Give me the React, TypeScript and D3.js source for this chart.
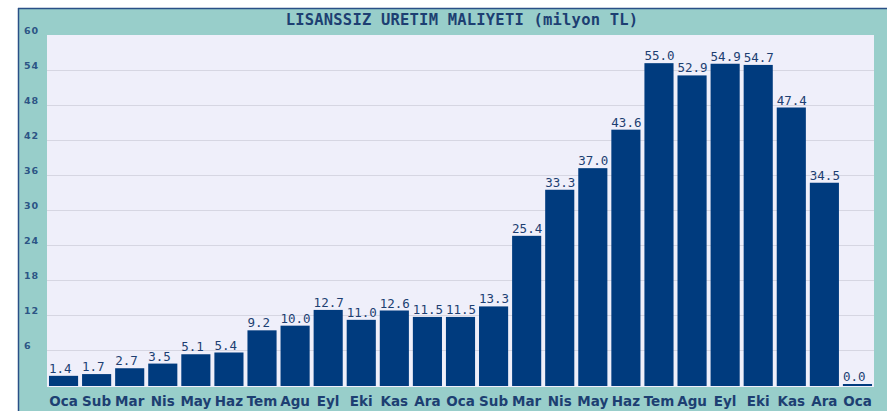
import React, { useEffect, useRef } from 'react';
import * as d3 from 'd3';

const months = ['Oca', 'Sub', 'Mar', 'Nis', 'May', 'Haz', 'Tem', 'Agu', 'Eyl', 'Eki', 'Kas', 'Ara',
  'Oca', 'Sub', 'Mar', 'Nis', 'May', 'Haz', 'Tem', 'Agu', 'Eyl', 'Eki', 'Kas', 'Ara', 'Oca'];
const values = [1.4, 1.7, 2.7, 3.5, 5.1, 5.4, 9.2, 10.0, 12.7, 11.0, 12.6, 11.5,
  11.5, 13.3, 25.4, 33.3, 37.0, 43.6, 55.0, 52.9, 54.9, 54.7, 47.4, 34.5, 0.0];
const yTicks = [6, 12, 18, 24, 30, 36, 42, 48, 54, 60];
const title = 'LISANSSIZ URETIM MALIYETI (milyon TL)';

const App = () => {
  const svgRef = useRef<SVGSVGElement>(null);
  const width = 887;
  const height = 411;

  useEffect(() => {
    const svg = d3.select(svgRef.current);
    svg.selectAll('*').remove();

    const plot = { left: 47, right: 874, top: 35, bottom: 385 };
    const teal = '#98ceca';
    const navy = '#003b7e';
    const textColor = '#1d3f72';

    // frame
    svg.append('rect').attr('x', 0).attr('y', 0).attr('width', width).attr('height', height).attr('fill', '#fff');
    svg.append('rect').attr('x', 19).attr('y', 9).attr('width', width - 19).attr('height', height - 9).attr('fill', teal);
    svg.append('line').attr('x1', 18.5).attr('x2', 18.5).attr('y1', 8).attr('y2', height).attr('stroke', '#2a4f86').attr('stroke-width', 1.5);
    svg.append('line').attr('x1', 18).attr('x2', width).attr('y1', 8.5).attr('y2', 8.5).attr('stroke', '#2a4f86').attr('stroke-width', 1.5);

    svg.append('text')
      .attr('x', 462).attr('y', 25)
      .attr('text-anchor', 'middle')
      .style('font-family', '"DejaVu Sans Mono", monospace')
      .style('font-weight', 'bold')
      .style('font-size', '15.5px')
      .style('letter-spacing', '0.2px')
      .style('fill', textColor)
      .text(title);

    svg.append('rect')
      .attr('x', plot.left).attr('y', plot.top)
      .attr('width', plot.right - plot.left).attr('height', plot.bottom - plot.top + 2)
      .attr('fill', '#efeffa');

    const x = d3.scaleBand<number>()
      .domain(months.map((d, i) => i))
      .range([plot.left, plot.right])
      .paddingInner(0.12)
      .paddingOuter(0.06);

    const y = d3.scaleLinear().domain([0, 60]).range([plot.bottom, plot.top]);

    // gridlines
    svg.append('g').selectAll('line')
      .data(yTicks.filter(t => t < 60))
      .enter().append('line')
      .attr('x1', plot.left).attr('x2', plot.right)
      .attr('y1', d => y(d) + 0.5).attr('y2', d => y(d) + 0.5)
      .attr('stroke', '#d6d6e2').attr('stroke-width', 1);

    // y labels
    svg.append('g').selectAll('text')
      .data(yTicks)
      .enter().append('text')
      .attr('x', 24).attr('y', d => y(d) - 1)
      .style('font-family', '"DejaVu Sans", sans-serif')
      .style('font-weight', 'bold')
      .style('font-size', '9.5px')
      .style('letter-spacing', '0.8px')
      .style('fill', '#2c5585')
      .text(d => d);

    // bars
    svg.append('g').selectAll('rect')
      .data(values)
      .enter().append('rect')
      .attr('x', (d, i) => x(i)!)
      .attr('y', d => y(d) - 1)
      .attr('width', x.bandwidth())
      .attr('height', d => plot.bottom - y(d) + 2)
      .attr('fill', navy);

    // value labels
    svg.append('g').selectAll('text')
      .data(values)
      .enter().append('text')
      .attr('x', (d, i) => x(i)!)
      .attr('y', d => y(d) - 4)
      .style('font-family', '"DejaVu Sans Mono", monospace')
      .style('font-size', '12.5px')
      .style('fill', textColor)
      .text(d => d.toFixed(1));

    // category labels
    svg.append('g').selectAll('text')
      .data(months)
      .enter().append('text')
      .attr('x', (d, i) => x(i)! + x.bandwidth() / 2)
      .attr('y', 406)
      .attr('text-anchor', 'middle')
      .style('font-family', '"DejaVu Sans", sans-serif')
      .style('font-weight', 'bold')
      .style('font-size', '13.5px')
      .style('fill', textColor)
      .text(d => d);
  }, []);

  return (
    <svg
      ref={svgRef}
      width={width}
      height={height}
      style={{ position: 'absolute', left: 0, top: 0 }}
    />
  );
};

export default App;
